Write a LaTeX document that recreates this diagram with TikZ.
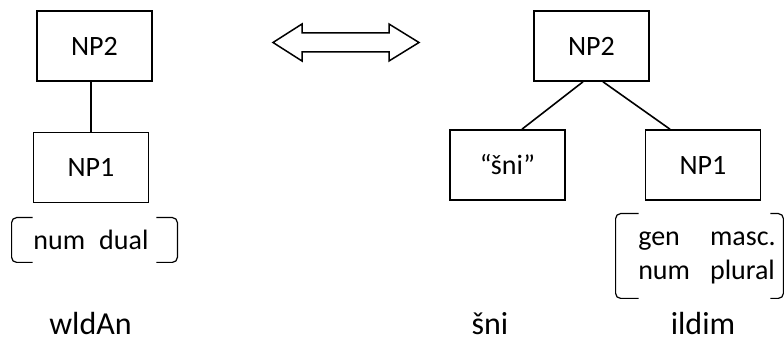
\documentclass[tikz,border=0pt]{standalone}
\usepackage{fontspec}
\setmainfont{Carlito}
\usetikzlibrary{calc,positioning}
\tikzset{
  cat/.style   = {draw, line width=0.8pt, minimum width=57.5pt, minimum height=35pt,
                  inner sep=0pt, font=\fontsize{14}{16}\selectfont},
  feat/.style  = {inner sep=0pt, align=left, font=\fontsize{14}{17}\selectfont},
  branch/.style= {line width=0.8pt},
  brk/.style   = {line width=0.6pt, rounded corners=2.5pt},
  word/.style  = {anchor=base, font=\fontsize{16}{18}\selectfont},
  swap/.style  = {draw, line width=0.75pt, line join=miter},
}

\begin{document}
\begin{tikzpicture}[x=0.5pt, y=-0.5pt]
\useasboundingbox (0,0) rectangle (784,341);

% ---------------- dual noun: one chain -----------------------------
\node[cat] (lnp2) at (94.5,46) {NP2};
\node[cat, below=25pt of lnp2, xshift=-1.75pt] (lnp1) {NP1};
\draw[branch] (lnp1.north) -- (lnp1.north |- lnp2.south);

\node[feat, minimum width=82.5pt, minimum height=22pt] (lfeat) at (94.5,240)
  {\hspace*{-3.5pt}num\enspace dual};
\draw[brk] ($(lfeat.north west)+(21,0)$) -- (lfeat.north west)
  -- (lfeat.south west) -- ++(21,0);
\draw[brk] ($(lfeat.north east)+(-21,0)$) -- (lfeat.north east)
  -- (lfeat.south east) -- ++(-21,0);

% ---------------- the swap arrow ------------------------------------
\draw[swap] (273,42.5) -- (302,24) -- (302,33) -- (389,33) -- (389,24)
  -- (419,42.5) -- (389,61) -- (389,52) -- (302,52) -- (302,61) -- cycle;

% ---------------- plural with the "two" word ------------------------
\node[cat] (rnp2) at (591.5,46) {NP2};
\node[cat] (sni) at (507.5,165) {“šni”};
\node[cat] (rnp1) at (703,165) {NP1};
\draw[branch] ($(rnp2.south)+(-8.5,0)$) -- ($(sni.north)+(14.5,0)$);
\draw[branch] ($(rnp2.south)+(11.5,0)$) -- ($(rnp1.north)+(-33,0)$);

\node[feat, minimum width=83.5pt, minimum height=42pt] (rfeat) at (699.5,256)
  {\begin{tabular}{@{\hspace{7.5pt}}l@{\hspace{10pt}}l@{}}gen & masc.\\ num & plural\end{tabular}};
\draw[brk] ($(rfeat.north west)+(23,0)$) -- (rfeat.north west)
  -- (rfeat.south west) -- ++(23,0);
\draw[brk] ($(rfeat.north east)+(-13,0)$) -- (rfeat.north east)
  -- (rfeat.south east) -- ++(-13,0);

% ---------------- surface forms -------------------------------------
\node[word] (wld) at (90.5,335) {wldAn};
\node[word] (snw) at (490,335) {šni};
\node[word] (ild) at (703,335) {ildim};

\end{tikzpicture}
\end{document}
